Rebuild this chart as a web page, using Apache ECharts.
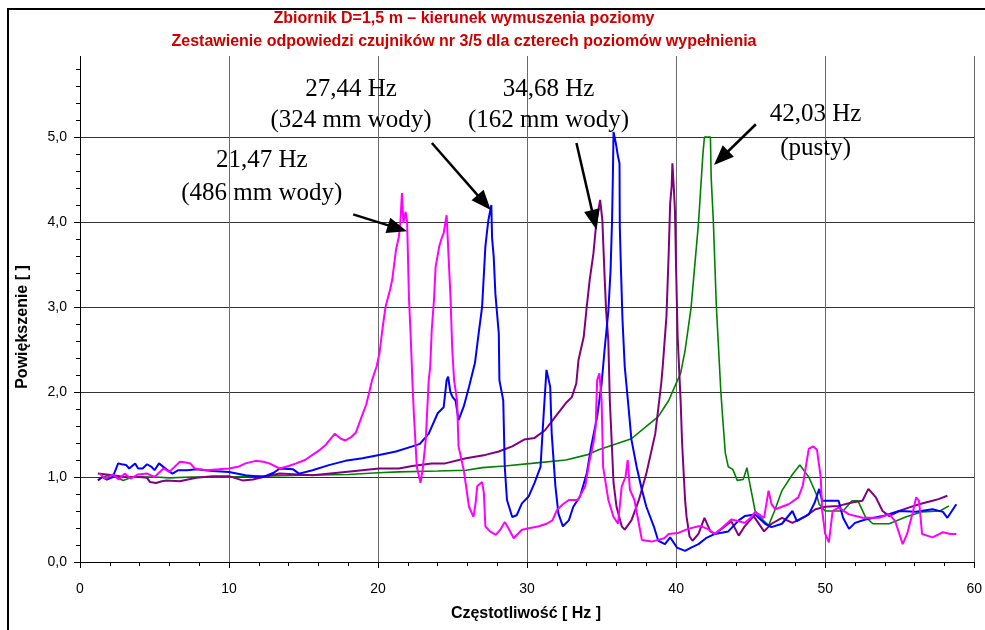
<!DOCTYPE html>
<html><head><meta charset="utf-8">
<script src="https://cdn.jsdelivr.net/npm/echarts@6/dist/echarts.min.js"></script>
<style>html,body{margin:0;padding:0;background:#fff}#c{width:985px;height:630px}</style>
</head><body><div id="c"></div>
<script>
const titleLines = ['Zbiornik D=1,5 m – kierunek wymuszenia poziomy','Zestawienie odpowiedzi czujników nr 3/5 dla czterech poziomów wypełnienia'];
const xAxisName = 'Częstotliwość [ Hz ]';
const yAxisName = 'Powiększenie [ ]';

const magenta486 = [[1.3,1.04],[1.7,0.98],[2.2,1.03],[2.6,0.97],[3.0,1.04],[3.4,0.98],[3.9,1.03],[4.5,1.04],[5.0,1.0],[5.6,1.1],[6.0,1.06],[6.7,1.18],[7.1,1.17],[7.4,1.16],[7.7,1.1],[8.5,1.08],[9.3,1.09],[10,1.1],[10.6,1.12],[11.1,1.16],[11.8,1.19],[12.3,1.18],[12.7,1.16],[13.4,1.1],[14.0,1.13],[14.5,1.16],[15.1,1.2],[15.6,1.26],[16.1,1.32],[16.5,1.38],[17.1,1.51],[17.5,1.45],[17.8,1.43],[18.2,1.47],[18.5,1.52],[18.9,1.71],[19.2,1.85],[19.4,1.99],[19.6,2.14],[19.9,2.3],[20.1,2.46],[20.3,2.75],[20.5,3.0],[20.8,3.2],[20.95,3.32],[21.2,3.67],[21.4,3.83],[21.5,4.0],[21.6,4.34],[21.7,3.99],[21.85,4.12],[21.95,4.0],[22.07,3.12],[22.2,2.61],[22.3,2.14],[22.4,1.75],[22.6,1.12],[22.85,0.93],[23.0,1.1],[23.2,1.44],[23.4,2.14],[23.5,2.3],[23.6,2.73],[23.75,3.08],[23.86,3.47],[24.1,3.71],[24.25,3.8],[24.4,3.87],[24.6,4.08],[24.75,3.52],[24.86,3.12],[24.97,2.53],[25.1,2.14],[25.3,1.9],[25.4,1.36],[25.75,1.08],[26.1,0.65],[26.4,0.53],[26.55,0.7],[26.65,0.89],[26.98,0.94],[27.1,0.81],[27.2,0.42],[27.5,0.36],[27.9,0.32],[28.2,0.38],[28.5,0.47],[28.8,0.38],[29.1,0.28],[29.65,0.38],[30.2,0.4],[30.8,0.42],[31.3,0.45],[31.7,0.49],[32.0,0.61],[32.4,0.68],[32.8,0.73],[33.4,0.73],[33.9,0.89],[34.2,1.2],[34.45,1.4],[34.6,1.59],[34.7,2.14],[34.85,2.22],[35.0,1.9],[35.1,1.12],[35.45,0.73],[35.8,0.53],[36.1,0.45],[36.35,0.89],[36.6,1.0],[36.75,1.2],[36.9,0.85],[37.2,0.73],[37.5,0.45],[37.7,0.26],[38.35,0.24],[38.8,0.26],[39.2,0.28],[39.5,0.33],[40.1,0.34],[40.8,0.39],[41.5,0.42],[41.7,0.42],[42.2,0.38],[42.6,0.33],[43.2,0.42],[43.7,0.5],[44.2,0.48],[44.6,0.46],[45.0,0.52],[45.3,0.59],[45.9,0.52],[46.2,0.84],[46.4,0.68],[46.65,0.62],[47.1,0.65],[47.55,0.68],[48.2,0.76],[48.5,0.9],[48.7,1.12],[48.9,1.33],[49.2,1.36],[49.45,1.32],[49.7,1.0],[49.8,0.6],[50.0,0.33],[50.25,0.23],[50.5,0.6],[50.9,0.64],[51.6,0.56],[52.5,0.52],[53.6,0.52],[54.3,0.56],[54.7,0.48],[55.2,0.21],[55.5,0.33],[55.9,0.6],[56.1,0.76],[56.3,0.72],[56.5,0.33],[57.2,0.29],[57.9,0.35],[58.4,0.33],[58.8,0.33]];

const blue324 = [[1.2,0.96],[1.5,1.0],[1.8,0.97],[2.2,1.0],[2.56,1.16],[2.8,1.15],[3.1,1.14],[3.3,1.1],[3.7,1.16],[3.9,1.1],[4.2,1.1],[4.5,1.15],[4.8,1.12],[5.0,1.08],[5.3,1.16],[5.8,1.09],[6.2,1.04],[6.6,1.08],[7.2,1.08],[7.8,1.09],[8.9,1.07],[10,1.06],[11.1,1.02],[12.3,1.0],[13.0,1.05],[13.4,1.1],[14.3,1.09],[14.7,1.04],[15.6,1.08],[16.7,1.14],[17.8,1.19],[18.95,1.22],[20.07,1.26],[21.2,1.3],[22.3,1.36],[22.8,1.39],[23.2,1.47],[23.4,1.51],[24.0,1.75],[24.4,1.82],[24.6,2.14],[24.7,2.18],[24.85,2.0],[25.0,1.94],[25.2,1.9],[25.4,1.67],[25.75,1.83],[26.1,2.06],[26.5,2.34],[26.75,2.69],[26.98,3.0],[27.2,3.71],[27.3,3.87],[27.4,4.02],[27.6,4.2],[27.65,3.81],[27.76,3.59],[27.87,3.16],[27.98,2.93],[28.1,2.69],[28.14,2.14],[28.4,1.9],[28.5,1.12],[28.65,0.73],[29.0,0.53],[29.3,0.55],[29.65,0.69],[30.1,0.77],[30.5,0.93],[30.9,1.12],[31.1,1.71],[31.3,2.26],[31.55,2.06],[31.65,1.51],[31.9,0.89],[32.1,0.57],[32.4,0.42],[32.8,0.49],[33.1,0.65],[33.55,0.77],[34.0,1.04],[34.3,1.36],[34.7,1.71],[35.0,2.1],[35.2,2.5],[35.45,2.95],[35.6,3.43],[35.7,4.02],[35.75,4.49],[35.8,5.06],[35.95,4.93],[36.1,4.77],[36.2,4.69],[36.22,3.94],[36.3,3.43],[36.4,2.85],[36.55,2.3],[36.8,1.83],[37.0,1.44],[37.35,1.12],[37.7,0.85],[38.0,0.65],[38.5,0.42],[38.8,0.25],[39.25,0.21],[39.6,0.29],[40.05,0.17],[40.6,0.13],[41.0,0.17],[41.5,0.21],[42.0,0.28],[42.6,0.33],[43.5,0.36],[44.2,0.49],[44.6,0.54],[45.3,0.56],[45.97,0.45],[46.4,0.41],[47.1,0.45],[47.8,0.6],[48.1,0.48],[48.9,0.56],[49.3,0.7],[49.6,0.86],[49.8,0.72],[50.25,0.72],[50.9,0.72],[51.2,0.52],[51.6,0.39],[52.0,0.46],[52.7,0.5],[53.85,0.54],[54.96,0.6],[56.1,0.59],[57.2,0.62],[57.9,0.59],[58.2,0.52],[58.5,0.6],[58.8,0.68]];

const purple162 = [[1.2,1.04],[2.2,1.02],[3.0,1.0],[4.0,1.0],[4.5,0.99],[4.7,0.94],[5.1,0.93],[5.5,0.95],[5.8,0.96],[6.7,0.95],[7.8,0.99],[8.9,1.01],[10,1.01],[10.9,0.96],[11.6,0.97],[12.3,1.0],[13.4,1.04],[15.6,1.02],[17.8,1.06],[20.07,1.1],[21.4,1.1],[22.3,1.13],[23.6,1.16],[24.5,1.16],[25.9,1.22],[27.2,1.26],[28.1,1.3],[29.0,1.36],[29.8,1.44],[30.5,1.46],[31.2,1.55],[31.9,1.71],[32.6,1.87],[33.0,1.94],[33.3,2.1],[33.45,2.38],[33.8,2.65],[34.0,3.0],[34.2,3.32],[34.45,3.63],[34.6,3.91],[34.7,4.06],[34.9,4.26],[35.0,4.28],[35.05,4.02],[35.1,3.79],[35.2,3.36],[35.3,2.96],[35.45,2.6],[35.55,1.9],[35.7,1.32],[35.8,0.93],[36.0,0.65],[36.35,0.42],[36.55,0.38],[37.0,0.49],[37.5,0.73],[38.0,1.04],[38.6,1.51],[39.0,2.1],[39.1,2.3],[39.35,2.89],[39.5,3.63],[39.6,4.22],[39.7,4.42],[39.75,4.69],[39.85,4.38],[39.92,4.14],[40.0,3.43],[40.1,2.65],[40.3,1.9],[40.4,1.4],[40.6,0.73],[40.7,0.53],[40.9,0.3],[41.1,0.25],[41.5,0.33],[41.9,0.52],[42.3,0.36],[42.6,0.33],[43.2,0.41],[43.7,0.48],[44.2,0.31],[44.6,0.42],[45.2,0.54],[45.9,0.36],[46.4,0.45],[47.1,0.52],[47.8,0.46],[48.7,0.54],[49.35,0.62],[50.0,0.65],[50.9,0.66],[51.8,0.7],[52.5,0.72],[52.9,0.86],[53.4,0.76],[53.85,0.6],[54.3,0.54],[54.96,0.6],[55.6,0.64],[56.3,0.68],[57.2,0.72],[57.6,0.74],[58.2,0.78]];

const greenEmpty = [[1.5,1.0],[2.0,1.02],[2.5,0.99],[2.9,0.96],[3.5,1.0],[5,1.0],[6,0.99],[7.5,1.0],[10,1.0],[12,1.01],[15,1.02],[18,1.03],[20,1.05],[21.4,1.06],[24,1.07],[25.9,1.08],[27,1.11],[28.5,1.13],[30.3,1.16],[32.6,1.2],[34,1.26],[34.8,1.32],[36,1.39],[37,1.45],[38.1,1.61],[38.8,1.71],[39.5,1.9],[39.9,2.06],[40.3,2.22],[40.6,2.49],[41.0,2.99],[41.5,3.99],[41.8,4.81],[41.9,5.0],[42.3,5.0],[42.35,4.53],[42.5,3.99],[42.7,3.0],[43.0,2.0],[43.1,1.75],[43.3,1.28],[43.5,1.12],[43.8,1.09],[44.1,0.96],[44.5,0.97],[44.75,1.11],[44.9,0.96],[45.3,0.6],[45.9,0.48],[46.2,0.43],[46.6,0.6],[47.1,0.84],[47.8,1.03],[48.3,1.14],[48.9,1.0],[49.4,0.8],[49.6,0.68],[50.0,0.6],[51.2,0.6],[51.8,0.72],[52.2,0.72],[52.7,0.53],[53.2,0.45],[54.3,0.45],[55.4,0.53],[56.5,0.59],[57.7,0.6],[58.3,0.66]];

// annotations: [line1, line2, centre freq, y line1, y line2]
const labels = [
  ['21,47 Hz','(486 mm wody)',12.2,4.73,4.34],
  ['27,44 Hz','(324 mm wody)',18.19,5.56,5.19],
  ['34,68 Hz','(162 mm wody)',31.44,5.56,5.19],
  ['42,03 Hz','(pusty)',49.36,5.27,4.86]
];
// arrows: [fromF, fromV, toF, toV]
const arrows = [
  [18.33,4.09,21.94,3.89],
  [23.61,4.93,27.56,4.14],
  [33.31,4.93,34.65,3.91],
  [45.35,5.15,42.54,4.67]
];

const chart = echarts.init(document.getElementById('c'), null, {renderer:'canvas'});
const mk = (name, data, color, w, z) => ({type:'line', name, data, showSymbol:false, symbol:'none', z,
  lineStyle:{color, width:w}, itemStyle:{color}, animation:false});
chart.setOption({
  animation:false,
  grid:{left:80, right:8, top:52, bottom:68},
  xAxis:{type:'value', min:0, max:60, interval:10,
    axisLine:{onZero:false, lineStyle:{color:'#000', width:1}},
    axisTick:{length:6, lineStyle:{color:'#000'}},
    minorTick:{show:true, splitNumber:5, length:4, lineStyle:{color:'#000'}},
    splitLine:{show:true, lineStyle:{color:'#6a6a6a', width:1}},
    axisLabel:{margin:20, color:'#000', fontFamily:'Liberation Sans Narrow, Liberation Sans, Arial', fontSize:14}},
  yAxis:{type:'value', min:0, max:6, interval:1,
    axisLine:{show:true, onZero:false, lineStyle:{color:'#000', width:1}},
    axisTick:{show:true, length:6, lineStyle:{color:'#000'}},
    minorTick:{show:true, splitNumber:5, length:4, lineStyle:{color:'#000'}},
    splitLine:{show:true, lineStyle:{color:'#333', width:1}},
    axisLabel:{margin:13, color:'#000', fontFamily:'Liberation Sans, Arial', fontSize:14, showMaxLabel:false,
      formatter:v=>v.toFixed(1).replace('.',',')}},
  series:[
    mk('pusty', greenEmpty, '#008000', 1.6, 2),
    mk('162 mm', purple162, '#800080', 2, 3),
    mk('324 mm', blue324, '#0000ff', 2, 4),
    mk('486 mm', magenta486, '#ff00ff', 2, 5)
  ]
});

const g = [];
// white title band covering top of plot, and outer frame
g.push({type:'rect', z:100, shape:{x:9, y:10, width:976, height:46}, style:{fill:'#fff'}});
g.push({type:'rect', z:101, shape:{x:8, y:9, width:1000, height:700}, style:{fill:null, stroke:'#000', lineWidth:2}});
titleLines.forEach((t,i)=>g.push({type:'text', z:102, x:464, y:19+i*23,
  style:{text:t, fill:'#cc0000', font:'bold 16px "Liberation Sans Narrow", "Liberation Sans", Arial', textAlign:'center', textVerticalAlign:'middle'}}));
g.push({type:'text', z:102, x:526, y:614, style:{text:xAxisName, fill:'#000', font:'bold 16px "Liberation Sans", Arial', textAlign:'center', textVerticalAlign:'middle'}});
g.push({type:'text', z:102, x:23, y:327, rotation:Math.PI/2, style:{text:yAxisName, fill:'#000', font:'bold 16px "Liberation Sans", Arial', textAlign:'center', textVerticalAlign:'middle'}});
labels.forEach(l=>{
  const p1 = chart.convertToPixel({gridIndex:0}, [l[2], l[3]]);
  const p2 = chart.convertToPixel({gridIndex:0}, [l[2], l[4]]);
  [[l[0],p1],[l[1],p2]].forEach(([t,p])=>g.push({type:'text', z:110, x:p[0], y:p[1],
    style:{text:t, fill:'#000', font:'25px "Liberation Serif", "Times New Roman", serif', textAlign:'center', textVerticalAlign:'middle'}}));
});
arrows.forEach(a=>{
  const s = chart.convertToPixel({gridIndex:0}, [a[0], a[1]]);
  const e = chart.convertToPixel({gridIndex:0}, [a[2], a[3]]);
  const dx=e[0]-s[0], dy=e[1]-s[1], L=Math.hypot(dx,dy), ux=dx/L, uy=dy/L;
  const hl=20, hw=8;
  const bx=e[0]-ux*hl, by=e[1]-uy*hl;
  g.push({type:'line', z:110, shape:{x1:s[0], y1:s[1], x2:bx+ux*2, y2:by+uy*2}, style:{stroke:'#000', lineWidth:2.5}});
  g.push({type:'polygon', z:110, shape:{points:[[e[0],e[1]],[bx-uy*hw,by+ux*hw],[bx+uy*hw,by-ux*hw]]}, style:{fill:'#000'}});
});
chart.setOption({graphic:g});
</script></body></html>
